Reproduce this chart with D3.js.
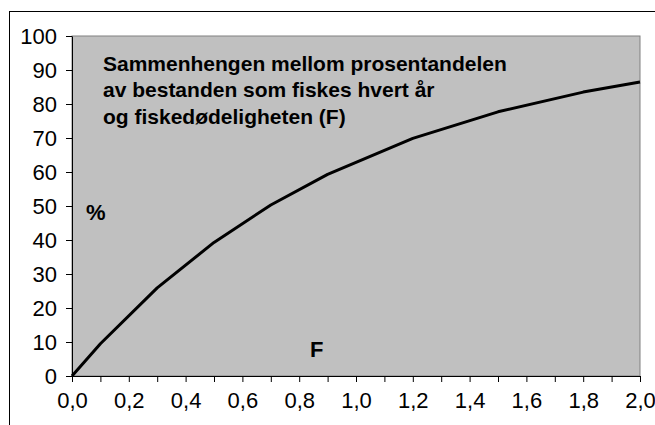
<!DOCTYPE html>
<html>
<head>
<meta charset="utf-8">
<script src="https://cdn.jsdelivr.net/npm/d3@7"></script>
<style>
  body { margin: 0; background: #fff; }
  svg { display: block; font-family: Arial, "Liberation Sans", sans-serif; }
</style>
</head>
<body>
<div id="chart"></div>
<script>
// F values and share of stock fished per year (%)
const fValues = [0, 0.1, 0.3, 0.5, 0.7, 0.9, 1.2, 1.5, 1.8, 2.0];
const percent = [0, 9.5, 25.9, 39.3, 50.3, 59.3, 69.9, 77.7, 83.5, 86.5];
const yTicks = [0, 10, 20, 30, 40, 50, 60, 70, 80, 90, 100];
const xTicks = d3.range(0, 21).map((d) => d / 10);
const xLabels = d3.range(0, 11).map((d) => d / 5);
const titleLines = [
  "Sammenhengen mellom prosentandelen",
  "av bestanden som fiskes hvert år",
  "og fiskedødeligheten (F)",
];

const width = 655, height = 425;
const plot = { left: 72, top: 36, right: 640, bottom: 376 };

const svg = d3.select("#chart").append("svg")
  .attr("width", width)
  .attr("height", height);

// outer chart border (only top and left fall inside the window)
svg.append("rect")
  .attr("x", 9.5).attr("y", 11.5)
  .attr("width", 700).attr("height", 500)
  .attr("fill", "none").attr("stroke", "#000");

const x = d3.scaleLinear().domain([0, 2]).range([plot.left, plot.right]);
const y = d3.scaleLinear().domain([0, 100]).range([plot.bottom, plot.top]);

svg.append("rect")
  .attr("x", plot.left).attr("y", plot.top)
  .attr("width", plot.right - plot.left)
  .attr("height", plot.bottom - plot.top)
  .attr("fill", "#c0c0c0")
  .attr("stroke", "#808080");

// y axis
const yAxis = svg.append("g")
  .attr("transform", `translate(${plot.left},0)`)
  .call(d3.axisLeft(y).tickValues(yTicks).tickSize(6).tickPadding(9).tickSizeOuter(0));
yAxis.select(".domain").attr("stroke", "#000");
yAxis.selectAll("line").attr("stroke", "#000");
yAxis.selectAll("text").style("font-size", "22px").attr("fill", "#000");

// x axis: tick every 0.1, label every 0.2
const fmt = (d) => d3.format(".1f")(d).replace(".", ",");
const xAxis = svg.append("g")
  .attr("transform", `translate(0,${plot.bottom})`)
  .call(d3.axisBottom(x).tickValues(xTicks).tickSize(6).tickPadding(10).tickSizeOuter(0)
    .tickFormat((d) => xLabels.some((v) => Math.abs(v - d) < 1e-9) ? fmt(d) : ""));
xAxis.select(".domain").attr("stroke", "#000");
xAxis.selectAll("line").attr("stroke", "#000");
xAxis.selectAll("text").style("font-size", "22px").attr("fill", "#000");

// curve
const line = d3.line()
  .x((d, i) => x(fValues[i]))
  .y((d) => y(d));
svg.append("path")
  .datum(percent)
  .attr("d", line)
  .attr("fill", "none")
  .attr("stroke", "#000")
  .attr("stroke-width", 3)
  .attr("stroke-linejoin", "round");

// title inside plot
svg.append("text")
  .attr("x", 103)
  .attr("y", 71)
  .attr("font-size", 21)
  .attr("font-weight", "bold")
  .selectAll("tspan")
  .data(titleLines)
  .enter()
  .append("tspan")
  .attr("x", 103)
  .attr("dy", (d, i) => (i === 0 ? 0 : 26.3))
  .text((d) => d);

svg.append("text")
  .attr("x", 86).attr("y", 220)
  .attr("font-size", 22).attr("font-weight", "bold")
  .text("%");

svg.append("text")
  .attr("x", 310).attr("y", 357)
  .attr("font-size", 22).attr("font-weight", "bold")
  .text("F");
</script>
</body>
</html>
